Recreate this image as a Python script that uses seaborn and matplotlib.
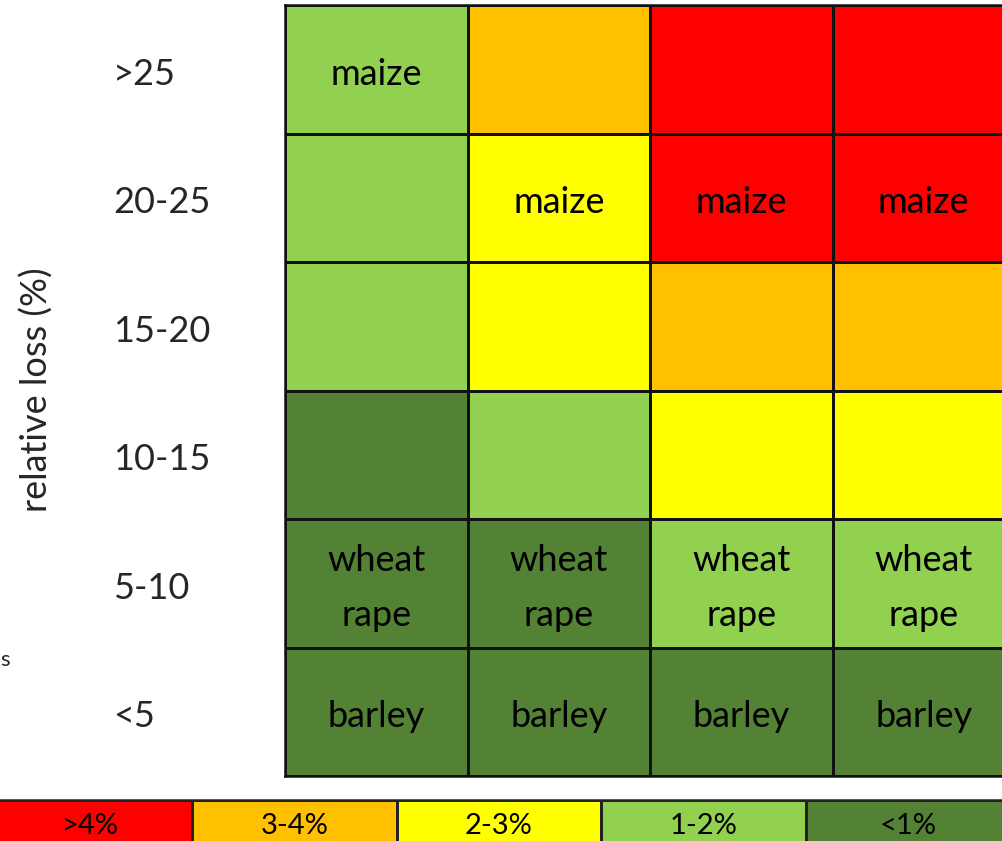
import numpy as np
import pandas as pd
import matplotlib
matplotlib.use("Agg")
import matplotlib.pyplot as plt
import matplotlib.transforms as mtransforms
import seaborn as sns
from matplotlib.colors import ListedColormap

sns.set_theme(style="white")
plt.rcParams['font.family'] = ['Lato', 'DejaVu Sans']

# Data
row_labels = [">25", "20-25", "15-20", "10-15", "5-10", "<5"]
# class index: 0 = <1%, 1 = 1-2%, 2 = 2-3%, 3 = 3-4%, 4 = >4%
col1 = [1, 1, 1, 0, 0, 0]
col2 = [3, 2, 2, 1, 0, 0]
col3 = [4, 4, 3, 2, 1, 0]
col4 = [4, 4, 3, 2, 1, 0]
crop_col1 = ["maize", "", "", "", "wheat\nrape", "barley"]
crop_col2 = ["", "maize", "", "", "wheat\nrape", "barley"]
crop_col3 = ["", "maize", "", "", "wheat\nrape", "barley"]
crop_col4 = ["", "maize", "", "", "wheat\nrape", "barley"]
legend_labels = [">4%", "3-4%", "2-3%", "1-2%", "<1%"]
legend_classes = [4, 3, 2, 1, 0]
class_colors = ["#548235", "#92D050", "#FFFF00", "#FFC000", "#FF0000"]
ylabel = "relative loss (%)"

W, H = 1002, 841
fig = plt.figure(figsize=(W / 100, H / 100), dpi=100)

grid = pd.DataFrame({"c1": col1, "c2": col2, "c3": col3, "c4": col4}, index=row_labels)
annot = np.array([crop_col1, crop_col2, crop_col3, crop_col4]).T
cmap = ListedColormap(class_colors)

left, right, top, bottom = 285, 285 + 4 * 182.5, 5, 776
ax = fig.add_axes([left / W, 1 - bottom / H, (right - left) / W, (bottom - top) / H])
sns.heatmap(grid, ax=ax, cmap=cmap, vmin=-0.5, vmax=4.5, cbar=False,
            annot=annot, fmt="", annot_kws={"fontsize": 26, "color": "black", "linespacing": 1.8},
            linewidths=1.8, linecolor="#111111", xticklabels=False, yticklabels=True)
for s in ax.spines.values():
    s.set_visible(True)
    s.set_color("#111111")
    s.set_linewidth(1.8)
ax.tick_params(axis="y", length=0, pad=(left - 113) * 0.72, labelsize=26)
down = mtransforms.ScaledTranslation(0, -5 / 100, fig.dpi_scale_trans)
for t in ax.get_yticklabels():
    t.set_ha("left")
    t.set_rotation(0)
    t.set_transform(t.get_transform() + down)
for t in ax.texts:
    t.set_transform(t.get_transform() + down)
ax.set_ylabel("")
fig.text(37 / W, 1 - 390 / H, ylabel, rotation=90, ha="center", va="center", fontsize=26)
fig.text(0.0, 1 - 660 / H, "s", ha="left", va="center", fontsize=16)

# Legend bar
lw = 204.4
lax = fig.add_axes([-12 / W, -3 / H, 5 * lw / W, 44 / H])
leg = pd.DataFrame([legend_classes], columns=legend_labels)
sns.heatmap(leg, ax=lax, cmap=cmap, vmin=-0.5, vmax=4.5, cbar=False,
            annot=np.array([legend_labels]), fmt="",
            annot_kws={"fontsize": 21, "color": "black"},
            linewidths=1.8, linecolor="#222222", xticklabels=False, yticklabels=False)
for s in lax.spines.values():
    s.set_visible(True)
    s.set_color("#222222")
    s.set_linewidth(1.8)
ldown = mtransforms.ScaledTranslation(0, -4 / 100, fig.dpi_scale_trans)
for t in lax.texts:
    t.set_transform(t.get_transform() + ldown)

fig.savefig("out.png", dpi=100)
